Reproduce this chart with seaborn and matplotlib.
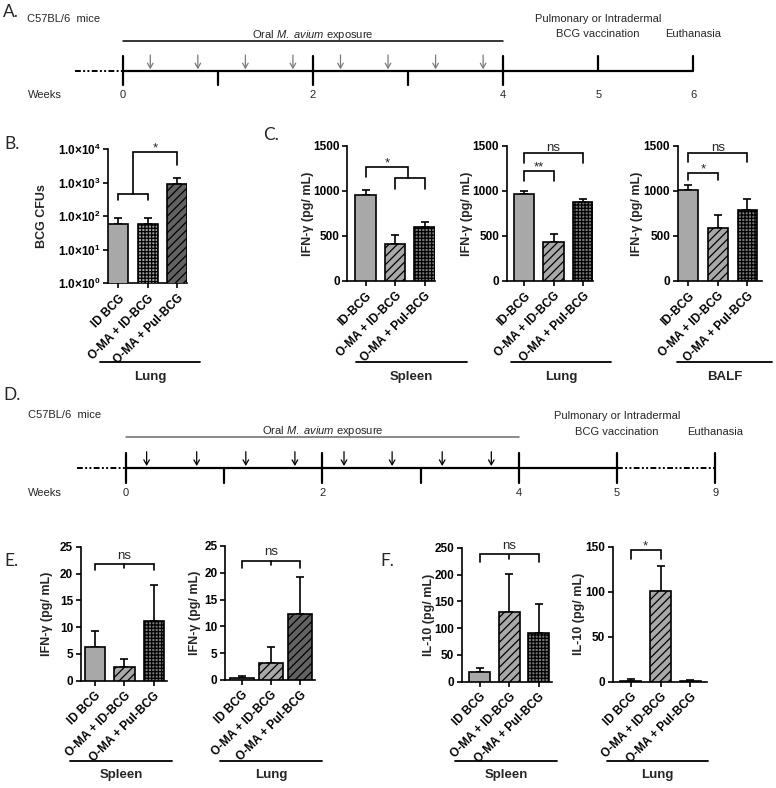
import numpy as np
import matplotlib
matplotlib.use("Agg")
import matplotlib.pyplot as plt
import seaborn as sns

sns.set_style("ticks")
plt.rcParams["font.family"] = ["Liberation Sans", "DejaVu Sans"]
plt.rcParams["mathtext.fontset"] = "custom"
plt.rcParams["mathtext.rm"] = "Liberation Sans"
plt.rcParams["mathtext.it"] = "Liberation Sans:italic"
plt.rcParams["mathtext.bf"] = "Liberation Sans:bold"
plt.rcParams["hatch.linewidth"] = 0.9

# ---------------- data ----------------
cats_b = ["ID BCG", "O-MA + ID-BCG", "O-MA + Pul-BCG"]
cats_c = ["ID-BCG", "O-MA + ID-BCG", "O-MA + Pul-BCG"]

b_lung_cfu = [58, 58, 940]
b_lung_sem = [31, 32, 440]

c_spleen = [958, 410, 600]
c_spleen_sem = [52, 95, 53]
c_lung = [965, 427, 880]
c_lung_sem = [38, 93, 30]
c_balf = [1010, 590, 790]
c_balf_sem = [52, 140, 115]

e_spleen = [6.35, 2.55, 11.15]
e_spleen_sem = [3.0, 1.5, 6.7]
e_lung = [0.43, 3.2, 12.3]
e_lung_sem = [0.35, 3.0, 7.0]

f_spleen = [17.5, 130, 90]
f_spleen_sem = [8.5, 71, 55]
f_lung = [1.1, 100.8, 1.2]
f_lung_sem = [1.4, 27.5, 1.1]

a_week_ticks = [0, 2, 4, 5, 6]
a_week_labels = ["0", "2", "4", "5", "6"]
a_minor_weeks = [1, 3]
a_doses = [0.29, 0.79, 1.29, 1.79, 2.29, 2.79, 3.29, 3.79]

d_week_ticks = [0, 2, 4, 5, 6]
d_week_labels = ["0", "2", "4", "5", "9"]
d_minor_weeks = [1, 3]
d_doses = [0.21, 0.72, 1.22, 1.72, 2.22, 2.71, 3.22, 3.72]

b_ticks = [1, 10, 100, 1000, 10000]
b_tick_labels = [r"$\mathbf{1.0{\times}10^{%d}}$" % k for k in range(5)]

# ---------------- figure ----------------
W, H = 776, 788
fig = plt.figure(figsize=(W / 100, H / 100), dpi=100)


def px_axes(l, t, r, b):
    return fig.add_axes([l / W, 1 - b / H, (r - l) / W, (b - t) / H])


ov = px_axes(0, 0, W, H)
ov.set_xlim(0, W)
ov.set_ylim(H, 0)
ov.axis("off")

LETTER = dict(family=["Lato", "DejaVu Sans"], fontsize=12.5, ha="left", va="center")
for lab, x, y in [("A.", 3, 12), ("B.", 4, 144), ("C.", 263, 135),
                  ("D.", 3, 395), ("E.", 4, 561), ("F.", 380, 561)]:
    ov.text(x, y, lab, **LETTER)

GREY = "#a8a8a8"
DARK = "#626262"
CHK = "#7a7a7a"
HATCH = "////"
CHECK = "+++++"


def bar_panel(box, cats, vals, sems, faces, hatches, ylim, yticks, ylabel,
              xlim, width, label_x, log=False, ytick_labels=None):
    ax = px_axes(*box)
    sns.barplot(x=cats, y=vals, hue=cats, palette=faces, legend=False, ax=ax,
                width=width, edgecolor="black", linewidth=1.2, saturation=1,
                zorder=3)
    for p, h in zip(ax.patches, hatches):
        if h:
            p.set_hatch(h)
    n = len(vals)
    ax.errorbar(np.arange(n), vals, yerr=[np.zeros(n), sems], fmt="none",
                ecolor="black", elinewidth=1.2, capsize=3.2, capthick=1.2,
                zorder=2)
    if log:
        ax.set_yscale("log")
    ax.set_ylim(*ylim)
    ax.set_xlim(*xlim)
    ax.set_yticks(yticks)
    ax.minorticks_off()
    if ytick_labels is not None:
        ax.set_yticklabels(ytick_labels)
    ax.set_xticks(range(n))
    ax.set_xticklabels(cats, rotation=45, ha="right", rotation_mode="anchor",
                       fontweight="bold", fontsize=8.5)
    for t in ax.get_yticklabels():
        t.set_fontweight("bold")
        t.set_fontsize(8.5)
    ax.tick_params(axis="both", width=1.2, length=3.5, pad=2, colors="black")
    ax.tick_params(axis="x", pad=3)
    sns.despine(ax=ax)
    for s in ("left", "bottom"):
        ax.spines[s].set_linewidth(1.2)
        ax.spines[s].set_color("black")
    ax.set_xlabel("")
    ax.set_ylabel(ylabel, fontweight="bold", fontsize=9)
    ax.yaxis.set_label_coords((label_x + 5 - box[0]) / (box[2] - box[0]), 0.5)
    ax.patch.set_alpha(0)
    return ax


def bracket(ax, x0, x1, y, y0, y1, lw=1.2):
    ax.plot([x0, x0, x1, x1], [y0, y, y, y1], color="black", lw=lw,
            clip_on=False, solid_joinstyle="miter", zorder=5)


def sig(ax, x, y, s, dy, fs=9.5):
    ax.annotate(s, xy=(x, y), xytext=(0, dy), textcoords="offset points",
                ha="center", va="baseline", fontsize=fs, annotation_clip=False)


# ---- B ----
axB = bar_panel((108.3, 149.3, 187, 283.3), cats_b, b_lung_cfu, b_lung_sem,
                [GREY, "#a0a0a0", DARK], [None, CHECK, HATCH], (1, 1e4), b_ticks,
                "BCG CFUs", (-0.34, 2.33), 0.68, 43, log=True,
                ytick_labels=b_tick_labels)
bracket(axB, 0, 1, 463, 307, 307)
bracket(axB, 0.5, 2, 8500, 463, 3400)
sig(axB, 1.25, 8500, "*", 0.5)

# ---- C ----
axC1 = bar_panel((347.3, 146, 435, 280.7), cats_c, c_spleen, c_spleen_sem,
                 [GREY, GREY, CHK], [None, HATCH, CHECK], (0, 1500),
                 [0, 500, 1000, 1500], "IFN-\u03b3 (pg/ mL)", (-0.62, 2.35),
                 0.7, 309)
bracket(axC1, 0, 1.43, 1270, 1155, 1143)
bracket(axC1, 1, 2, 1143, 1021, 1021)
sig(axC1, 0.72, 1270, "*", 0.5)

axC2 = bar_panel((506.7, 146, 593, 280.7), cats_c, c_lung, c_lung_sem,
                 [GREY, GREY, CHK], [None, HATCH, CHECK], (0, 1500),
                 [0, 500, 1000, 1500], "IFN-\u03b3 (pg/ mL)", (-0.59, 2.34),
                 0.7, 468)
bracket(axC2, 0, 1, 1221, 1113, 1113)
bracket(axC2, 0, 2, 1418, 1314, 1314)
sig(axC2, 0.5, 1221, "**", 0.5)
sig(axC2, 1.0, 1418, "ns", 1.5)

axC3 = bar_panel((677.7, 146, 762, 280.7), cats_c, c_balf, c_balf_sem,
                 [GREY, GREY, CHK], [None, HATCH, CHECK], (0, 1500),
                 [0, 500, 1000, 1500], "IFN-\u03b3 (pg/ mL)", (-0.35, 2.49),
                 0.66, 638)
bracket(axC3, 0, 1, 1199, 1121, 1121)
bracket(axC3, 0, 2, 1422, 1321, 1321)
sig(axC3, 0.5, 1199, "*", 0.5)
sig(axC3, 1.0, 1422, "ns", 1.5)

# ---- E ----
axE1 = bar_panel((80.7, 546.7, 166.7, 680.7), cats_b, e_spleen, e_spleen_sem,
                 [GREY, GREY, CHK], [None, HATCH, CHECK], (0, 25),
                 [0, 5, 10, 15, 20, 25], "IFN-\u03b3 (pg/ mL)", (-0.49, 2.44),
                 0.7, 48)
bracket(axE1, 0, 2, 21.7, 20.65, 20.65)
axE1.plot([1, 1], [21.7, 21.0], color="black", lw=1.2, clip_on=False)
sig(axE1, 1, 21.7, "ns", 4)

axE2 = bar_panel((225, 546, 315, 680), cats_b, e_lung, e_lung_sem,
                 [GREY, GREY, DARK], [None, HATCH, HATCH], (0, 25),
                 [0, 5, 10, 15, 20, 25], "IFN-\u03b3 (pg/ mL)", (-0.59, 2.52),
                 0.8, 196)
bracket(axE2, 0, 2, 22.2, 20.95, 20.95)
axE2.plot([1, 1], [22.2, 21.5], color="black", lw=1.2, clip_on=False)
sig(axE2, 1, 22.2, "ns", 4)

# ---- F ----
axF1 = bar_panel((461.7, 547.7, 551.7, 681.7), cats_b, f_spleen, f_spleen_sem,
                 [GREY, GREY, CHK], [None, HATCH, CHECK], (0, 250),
                 [0, 50, 100, 150, 200, 250], "IL-10 (pg/ mL)", (-0.61, 2.44),
                 0.7, 430)
bracket(axF1, 0, 2, 238, 224, 224)
axF1.plot([1, 1], [236, 229], color="black", lw=1.2, clip_on=False)
sig(axF1, 1, 238, "ns", 4)

axF2 = bar_panel((612.7, 546.7, 706.7, 681.7), cats_b, f_lung, f_lung_sem,
                 [GREY, GREY, CHK], [None, HATCH, CHECK], (0, 150),
                 [0, 50, 100, 150], "IL-10 (pg/ mL)", (-0.61, 2.55),
                 0.7, 580)
bracket(axF2, 0, 1, 146.3, 136.3, 136.3)
sig(axF2, 0.5, 146.3, "*", 0.5)

# ---- tissue group lines ----
for x0, x1, y, ty, name in [(100, 200, 362, 377, "Lung"),
                            (356, 467, 362, 377, "Spleen"),
                            (511, 611, 362, 377, "Lung"),
                            (677, 772, 362, 377, "BALF"),
                            (70, 172, 761, 775, "Spleen"),
                            (220, 322, 761, 775, "Lung"),
                            (455, 557, 761, 775, "Spleen"),
                            (607, 708, 761, 775, "Lung")]:
    ov.plot([x0, x1], [y, y], color="black", lw=1.3)
    ov.text((x0 + x1) / 2, ty, name, ha="center", va="center",
            fontweight="bold", fontsize=9.5)

# ---------------- timelines ----------------
TXT = dict(fontsize=8, ha="center", va="center")
DASH = (0, (3, 1.2, 1, 1.2, 1, 1.2))


def timeline(box, x0px, ppw, y_line, y_top, y_bot, ticks, labels, minor,
             top_only, doses, dose_color, dose_y0, dose_y1,
             expo_y, expo_color, y_lab, dashed_segments, end_week, y_t1, y_t2):
    ax = px_axes(*box)
    ax.set_xlim(-x0px / ppw, (W - x0px) / ppw)
    ax.set_ylim(box[3], box[1])
    ax.axis("off")
    ax.patch.set_alpha(0)
    ax.plot([0, end_week], [y_line, y_line], color="black", lw=1.6,
            solid_capstyle="butt")
    for s0, s1 in dashed_segments:
        ax.plot([s0, s1], [y_line, y_line], color="black", lw=1.4, ls=DASH)
    for w in ticks:
        if w in top_only:
            ax.plot([w, w], [y_top, y_line], color="black", lw=1.6)
        else:
            ax.plot([w, w], [y_top, y_bot], color="black", lw=1.6)
    for w in minor:
        ax.plot([w, w], [y_line, y_bot], color="black", lw=1.6)
    for d in doses:
        ax.annotate("", xy=(d, dose_y1), xytext=(d, dose_y0),
                    arrowprops=dict(arrowstyle="->,head_length=0.35,head_width=0.2",
                                    color=dose_color, lw=0.9, shrinkA=0,
                                    shrinkB=0))
    ax.plot([0, 4], [expo_y, expo_y], color=expo_color, lw=1.1)
    for w, l in zip(ticks, labels):
        ax.text(w, y_lab, l, **TXT)
    ax.text(2, expo_y - 6, r"Oral $\it{M.\ avium}$ exposure", **TXT)
    ax.text(5, y_t2, "BCG vaccination", **TXT)
    ax.text(6, y_t2, "Euthanasia", **TXT)
    ax.text(5, y_t1, "Pulmonary or Intradermal", **TXT)
    return ax


timeline((0, 0, W, 110), 122.7, 95.1, 70.7, 56, 85, a_week_ticks,
         a_week_labels, a_minor_weeks, [5, 6], a_doses, "#7a7a7a", 55,
         69.3, 40.7, "black", 95, [(-0.5, 0)], 6, 19.3, 34.3)
ov.text(27, 19, "C57BL/6  mice", fontsize=8, ha="left", va="center")
ov.text(28, 95, "Weeks", fontsize=8, ha="left", va="center")

timeline((0, 380, W, 500), 126, 98.2, 468.3, 453.3, 483.3, d_week_ticks,
         d_week_labels, d_minor_weeks, [], d_doses, "black", 451.7, 466,
         436.7, "#6a6a6a", 493.3, [(-0.5, 0), (5, 6)], 5, 415.7, 431.7)
ov.text(28, 415, "C57BL/6  mice", fontsize=8, ha="left", va="center")
ov.text(28, 493.3, "Weeks", fontsize=8, ha="left", va="center")

fig.savefig("out.png", dpi=100)
